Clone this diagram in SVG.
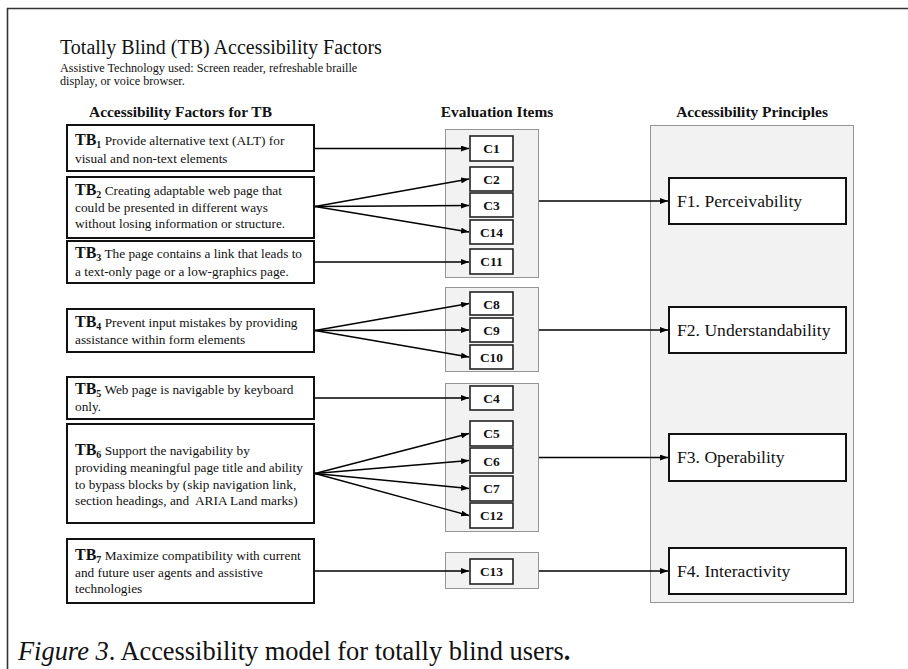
<svg xmlns="http://www.w3.org/2000/svg" width="908" height="669" viewBox="0 0 908 669">
<defs>
<marker id="ah" markerUnits="userSpaceOnUse" markerWidth="8" markerHeight="6" refX="8" refY="3" orient="auto">
<path d="M0,0 L8,3 L0,6 z" fill="#000"/>
</marker>
<style>
text{font-family:"Liberation Serif","Times New Roman",serif;fill:#111}
.title{font-size:20px}
.sub{font-size:12.2px}
.hdr{font-size:15.4px;font-weight:bold}
.tbbox{fill:#fff;stroke:#111;stroke-width:2}
.tt{font-size:13.3px}
.tb{font-size:16px;font-weight:bold}
.tbn{font-size:10px;font-weight:bold}
.grp{fill:#f2f2f2;stroke:#333;stroke-width:1;stroke-dasharray:1 1}
.cbox{fill:#fff;stroke:#222;stroke-width:1.6}
.ct{font-size:13.5px;font-weight:bold;text-anchor:middle}
.fbox{fill:#fff;stroke:#111;stroke-width:2}
.ft{font-size:17.6px}
.conn line{stroke:#000;stroke-width:1.3;marker-end:url(#ah)}
.cap{font-size:26.4px}
</style>
</defs>
<rect x="0" y="0" width="908" height="669" fill="#fff"/>
<g id="frame">
<line x1="7" y1="8.5" x2="908" y2="8.5" stroke="#333" stroke-width="1.6"/>
<line x1="7.5" y1="8" x2="7.5" y2="669" stroke="#333" stroke-width="1.6"/>
</g>
<g id="heading">
<text class="title" x="60" y="54">Totally Blind (TB) Accessibility Factors</text>
<text class="sub" x="60" y="72">Assistive Technology used: Screen reader, refreshable braille</text>
<text class="sub" x="60" y="85">display, or voice browser.</text>
<text class="hdr" x="180.5" y="117" text-anchor="middle">Accessibility Factors for TB</text>
<text class="hdr" x="497" y="117" text-anchor="middle">Evaluation Items</text>
<text class="hdr" x="752" y="117" text-anchor="middle">Accessibility Principles</text>
</g>
<g id="groups">
<rect class="grp" x="445.5" y="129.5" width="93" height="148"/>
<rect class="grp" x="445.5" y="287.5" width="93" height="84"/>
<rect class="grp" x="445.5" y="383.5" width="93" height="148"/>
<rect class="grp" x="445.5" y="552.5" width="93" height="36"/>
<rect class="grp" x="650.5" y="125.5" width="203" height="477"/>
</g>
<g id="TB1">
<rect class="tbbox" x="67" y="125" width="247" height="46"/>
<text class="tt" x="75" y="145"><tspan class="tb">TB</tspan><tspan class="tbn" dy="3">1</tspan><tspan dy="-3"> Provide alternative text (ALT) for</tspan></text>
<text class="tt" x="75" y="163">visual and non-text elements</text>
</g>
<g id="TB2">
<rect class="tbbox" x="67" y="177" width="247" height="61"/>
<text class="tt" x="75" y="195"><tspan class="tb">TB</tspan><tspan class="tbn" dy="3">2</tspan><tspan dy="-3"> Creating adaptable web page that</tspan></text>
<text class="tt" x="75" y="211.5">could be presented in different ways</text>
<text class="tt" x="75" y="228">without losing information or structure.</text>
</g>
<g id="TB3">
<rect class="tbbox" x="67" y="241" width="247" height="42"/>
<text class="tt" x="75" y="258"><tspan class="tb">TB</tspan><tspan class="tbn" dy="3">3</tspan><tspan dy="-3"> The page contains a link that leads to</tspan></text>
<text class="tt" x="75" y="276">a text-only page or a low-graphics page.</text>
</g>
<g id="TB4">
<rect class="tbbox" x="67" y="309" width="247" height="43"/>
<text class="tt" x="75" y="327"><tspan class="tb">TB</tspan><tspan class="tbn" dy="3">4</tspan><tspan dy="-3"> Prevent input mistakes by providing</tspan></text>
<text class="tt" x="75" y="344">assistance within form elements</text>
</g>
<g id="TB5">
<rect class="tbbox" x="67" y="377" width="247" height="42"/>
<text class="tt" x="75" y="394"><tspan class="tb">TB</tspan><tspan class="tbn" dy="3">5</tspan><tspan dy="-3"> Web page is navigable by keyboard</tspan></text>
<text class="tt" x="75" y="411">only.</text>
</g>
<g id="TB6">
<rect class="tbbox" x="67" y="424" width="247" height="99"/>
<text class="tt" x="75" y="455"><tspan class="tb">TB</tspan><tspan class="tbn" dy="3">6</tspan><tspan dy="-3"> Support the navigability by</tspan></text>
<text class="tt" x="75" y="472">providing meaningful page title and ability</text>
<text class="tt" x="75" y="488.5">to bypass blocks by (skip navigation link,</text>
<text class="tt" x="75" y="505" xml:space="preserve">section headings, and  ARIA Land marks)</text>
</g>
<g id="TB7">
<rect class="tbbox" x="67" y="539" width="247" height="64"/>
<text class="tt" x="75" y="560"><tspan class="tb">TB</tspan><tspan class="tbn" dy="3">7</tspan><tspan dy="-3"> Maximize compatibility with current</tspan></text>
<text class="tt" x="75" y="576.5">and future user agents and assistive</text>
<text class="tt" x="75" y="593">technologies</text>
</g>
<g id="C1"><rect class="cbox" x="470" y="136" width="43" height="25"/><text class="ct" x="491.5" y="153">C1</text></g>
<g id="C2"><rect class="cbox" x="470" y="167" width="43" height="24"/><text class="ct" x="491.5" y="184">C2</text></g>
<g id="C3"><rect class="cbox" x="470" y="193" width="43" height="24"/><text class="ct" x="491.5" y="210">C3</text></g>
<g id="C14"><rect class="cbox" x="470" y="220" width="43" height="24"/><text class="ct" x="491.5" y="237">C14</text></g>
<g id="C11"><rect class="cbox" x="470" y="249" width="43" height="25"/><text class="ct" x="491.5" y="266">C11</text></g>
<g id="C8"><rect class="cbox" x="470" y="292" width="43" height="23"/><text class="ct" x="491.5" y="308.5">C8</text></g>
<g id="C9"><rect class="cbox" x="470" y="318" width="43" height="24"/><text class="ct" x="491.5" y="335">C9</text></g>
<g id="C10"><rect class="cbox" x="470" y="345" width="43" height="24"/><text class="ct" x="491.5" y="362">C10</text></g>
<g id="C4"><rect class="cbox" x="470" y="386" width="43" height="24"/><text class="ct" x="491.5" y="403">C4</text></g>
<g id="C5"><rect class="cbox" x="470" y="421" width="43" height="25"/><text class="ct" x="491.5" y="438">C5</text></g>
<g id="C6"><rect class="cbox" x="470" y="448" width="43" height="25"/><text class="ct" x="491.5" y="465.5">C6</text></g>
<g id="C7"><rect class="cbox" x="470" y="476" width="43" height="25"/><text class="ct" x="491.5" y="493">C7</text></g>
<g id="C12"><rect class="cbox" x="470" y="503" width="43" height="25"/><text class="ct" x="491.5" y="520">C12</text></g>
<g id="C13"><rect class="cbox" x="470" y="559" width="43" height="25"/><text class="ct" x="491.5" y="576">C13</text></g>
<g id="F1"><rect class="fbox" x="669" y="178" width="177" height="46"/><text class="ft" x="677" y="207">F1. Perceivability</text></g>
<g id="F2"><rect class="fbox" x="669" y="307" width="177" height="46"/><text class="ft" x="677" y="336">F2. Understandability</text></g>
<g id="F3"><rect class="fbox" x="669" y="434" width="177" height="47"/><text class="ft" x="677" y="463">F3. Operability</text></g>
<g id="F4"><rect class="fbox" x="669" y="548" width="177" height="46"/><text class="ft" x="677" y="577">F4. Interactivity</text></g>
<g id="connectors" class="conn">
<line x1="315" y1="148.5" x2="469" y2="148.5"/>
<line x1="315" y1="206.5" x2="469" y2="179"/>
<line x1="315" y1="206.5" x2="469" y2="205.5"/>
<line x1="315" y1="206.5" x2="469" y2="232"/>
<line x1="315" y1="262" x2="469" y2="262"/>
<line x1="315" y1="330.5" x2="469" y2="303.5"/>
<line x1="315" y1="330.5" x2="469" y2="330"/>
<line x1="315" y1="330.5" x2="469" y2="357"/>
<line x1="315" y1="398" x2="469" y2="398"/>
<line x1="315" y1="473.5" x2="469" y2="433.5"/>
<line x1="315" y1="473.5" x2="469" y2="460.5"/>
<line x1="315" y1="473.5" x2="469" y2="488.5"/>
<line x1="315" y1="473.5" x2="469" y2="515.5"/>
<line x1="315" y1="571" x2="469" y2="571"/>
<line x1="539" y1="201" x2="668" y2="201"/>
<line x1="539" y1="330" x2="668" y2="330"/>
<line x1="539" y1="457.5" x2="668" y2="457.5"/>
<line x1="539" y1="571" x2="668" y2="571"/>
</g>
<text class="cap" x="18" y="660"><tspan font-style="italic">Figure 3</tspan>. Accessibility model for totally blind users<tspan font-weight="bold">.</tspan></text>
</svg>
